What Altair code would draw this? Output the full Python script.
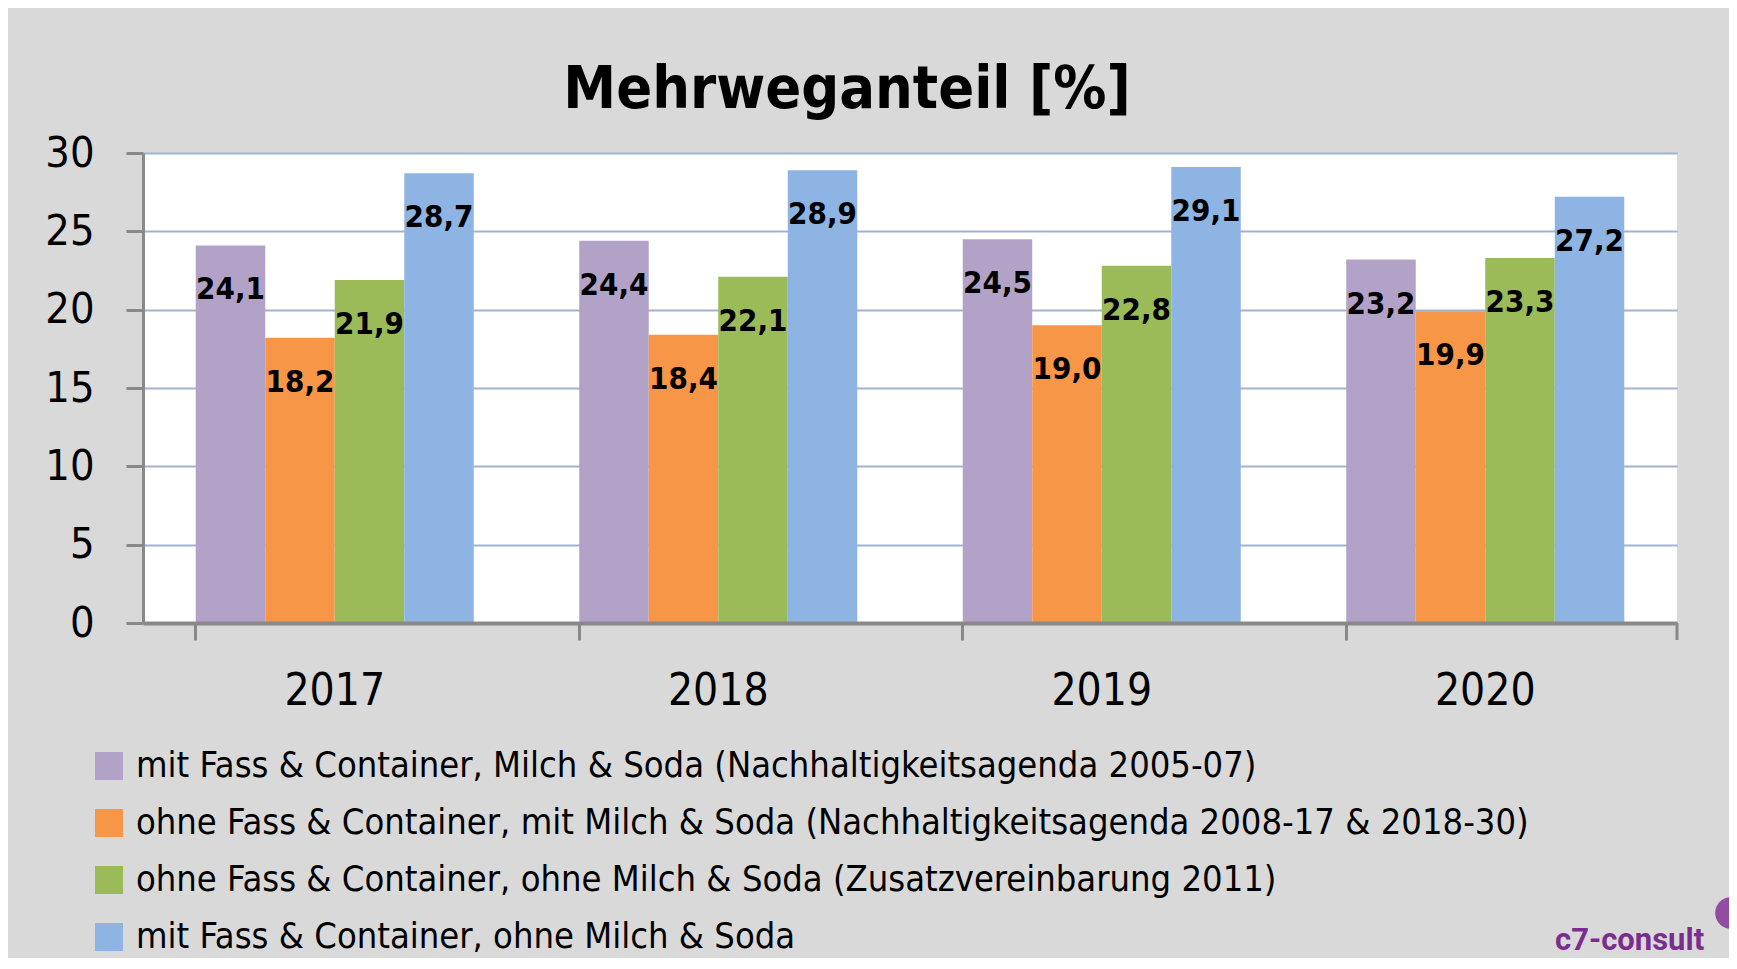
import altair as alt
import pandas as pd

years = ["2017", "2018", "2019", "2020"]
series = [
    "mit Fass & Container, Milch & Soda (Nachhaltigkeitsagenda 2005-07)",
    "ohne Fass & Container, mit Milch & Soda (Nachhaltigkeitsagenda 2008-17 & 2018-30)",
    "ohne Fass & Container, ohne Milch & Soda (Zusatzvereinbarung 2011)",
    "mit Fass & Container, ohne Milch & Soda",
]
values_s1 = [24.1, 24.4, 24.5, 23.2]
values_s2 = [18.2, 18.4, 19.0, 19.9]
values_s3 = [21.9, 22.1, 22.8, 23.3]
values_s4 = [28.7, 28.9, 29.1, 27.2]
colors = ["#b3a2c7", "#f79646", "#9bbb59", "#8eb4e3"]
y_ticks = [0, 5, 10, 15, 20, 25, 30]

rows = []
for s, vals in zip(series, [values_s1, values_s2, values_s3, values_s4]):
    for y, v in zip(years, vals):
        rows.append({"Jahr": y, "Serie": s, "Wert": v,
                     "Label": f"{v:.1f}".replace(".", ",")})
df = pd.DataFrame(rows)

FONT = "Liberation Sans Narrow, DejaVu Sans Condensed, Arial Narrow, sans-serif"
W, H = 1534, 470
AXIS_GRAY = "#898989"

x_enc = alt.X(
    "Jahr:N",
    sort=years,
    scale=alt.Scale(paddingInner=0.275, paddingOuter=0.1375),
    axis=alt.Axis(
        title=None, labelAngle=0, labelFont=FONT, labelFontSize=44,
        labelColor="black", labelPadding=29, bandPosition=0,
        domainColor=AXIS_GRAY, domainWidth=4, tickColor=AXIS_GRAY,
        tickWidth=3, tickSize=17, zindex=1,
    ),
)
xoff_enc = alt.XOffset("Serie:N", sort=series,
                       scale=alt.Scale(paddingInner=0, paddingOuter=0))
y_enc = alt.Y(
    "Wert:Q",
    scale=alt.Scale(domain=[0, 30], nice=False),
    axis=alt.Axis(
        title=None, values=y_ticks, grid=True, gridColor="#9fb3cf",
        gridWidth=2, labelFont=FONT, labelFontSize=43, labelColor="black",
        labelPadding=32, domainColor=AXIS_GRAY, domainWidth=3,
        tickColor=AXIS_GRAY, tickWidth=3, tickSize=17,
    ),
)

base = alt.Chart(df)

bars = base.mark_bar().encode(
    x=x_enc,
    xOffset=xoff_enc,
    y=y_enc,
    color=alt.Color(
        "Serie:N",
        sort=series,
        scale=alt.Scale(domain=series, range=colors),
        legend=alt.Legend(
            title=None, orient="none", legendX=-52, legendY=595,
            direction="vertical", symbolType="square", symbolSize=784,
            symbolStrokeWidth=0, labelFont=FONT, labelFontSize=36,
            labelColor="black", labelOffset=9, rowPadding=21,
            labelLimit=2000, padding=0,
        ),
    ),
)

labels = base.mark_text(
    baseline="middle", align="center", dy=45, font=FONT,
    fontSize=31, fontWeight="bold", color="black",
).encode(
    x=alt.X("Jahr:N", sort=years),
    xOffset=alt.XOffset("Serie:N", sort=series),
    y=alt.Y("Wert:Q"),
    text="Label:N",
)

end_tick = alt.Chart(pd.DataFrame({"a": [0]})).mark_rule(
    color=AXIS_GRAY, strokeWidth=3
).encode(x=alt.value(W), y=alt.value(H), y2=alt.value(H + 17))

logo = alt.Chart(pd.DataFrame({"t": ["c7-consult"]})).mark_text(
    font="Roboto", fontSize=31, fontWeight="bold", color="#7b2d8e",
    align="left", baseline="alphabetic",
).encode(text="t:N", x=alt.value(1412), y=alt.value(797))

logo_icon = alt.Chart(pd.DataFrame({"t": ["icon"]})).mark_point(
    shape="circle", filled=True, color="#8a3d9c", size=1000, opacity=0.9,
).encode(x=alt.value(1588), y=alt.value(760))

chart = alt.layer(bars, labels, end_tick, logo, logo_icon).properties(
    width=W, height=H,
    title=alt.Title(
        "Mehrweganteil [%]", font=FONT, fontSize=59, fontWeight="bold",
        color="black", anchor="middle", frame="group", dx=-63, dy=59,
        baseline="alphabetic", offset=24,
    ),
    background="#d9d9d9",
    padding={"left": 135, "top": 145, "right": 52, "bottom": 335},
    autosize=alt.AutoSizeParams(type="none"),
).configure_view(fill="white", strokeWidth=0)

chart.save("out.html", embed_options={"renderer": "svg", "actions": False})
